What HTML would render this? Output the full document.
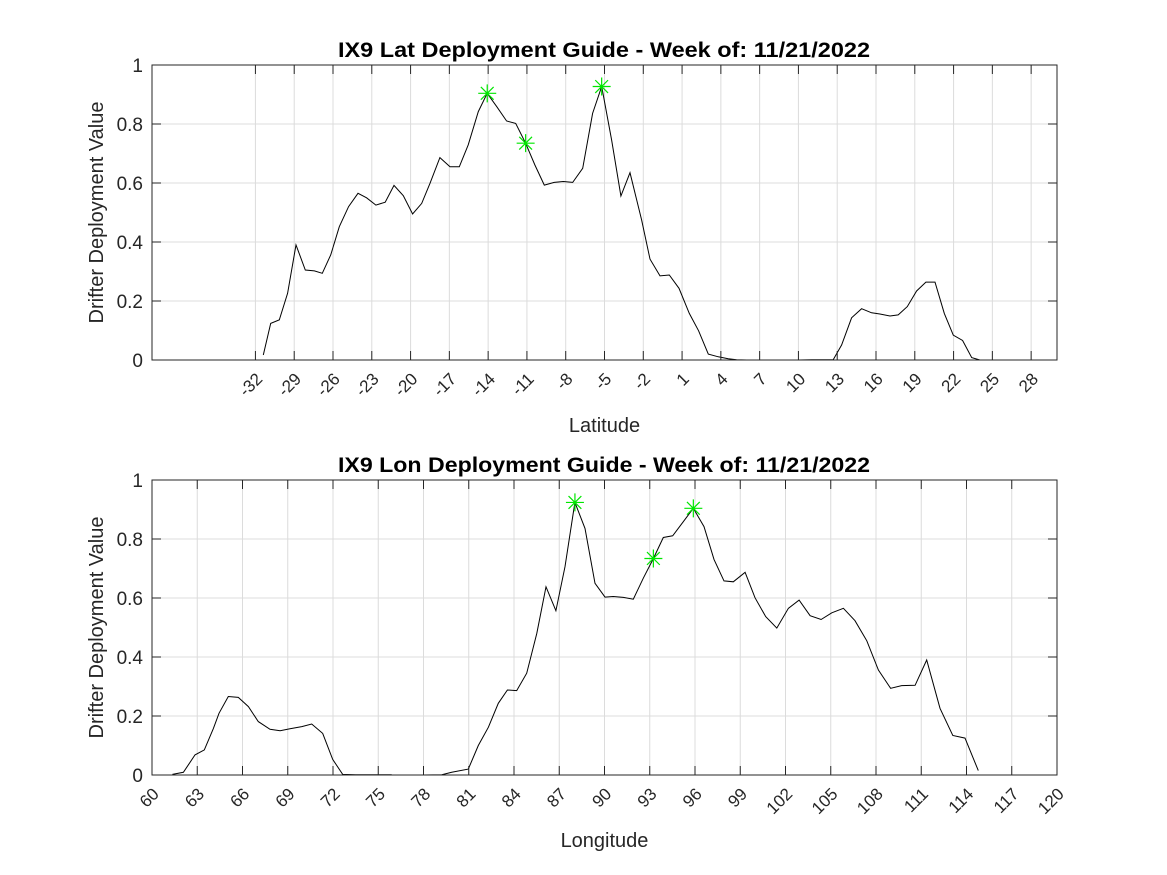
<!DOCTYPE html>
<html><head><meta charset="utf-8"><style>
html,body{margin:0;padding:0;background:#fff;}
svg{display:block;font-family:"Liberation Sans",Arial,sans-serif;}
</style></head><body>
<svg id="chart" width="1167" height="875" viewBox="0 0 1167 875" xmlns="http://www.w3.org/2000/svg"></svg>
<script>
const latX = [-31.39,-30.82,-30.15,-29.51,-28.86,-28.14,-27.44,-26.83,-26.18,-25.51,-24.79,-24.07,-23.40,-22.68,-21.96,-21.28,-20.56,-19.84,-19.14,-18.5,-17.73,-16.95,-16.23,-15.54,-14.76,-14.07,-13.34,-12.57,-11.87,-11.10,-10.38,-9.66,-8.89,-8.19,-7.46,-6.69,-5.92,-5.22,-4.45,-3.73,-3.03,-2.13,-1.48,-0.71,0.01,0.76,1.56,2.28,3.03,3.80,4.57,5.22,6.0,6.77,null,9.03,10.0,11.0,12.0,12.69,13.34,14.11,14.89,15.66,16.3,17.08,17.72,18.42,19.14,19.86,20.56,21.28,21.98,22.70,23.40,24.04];
const latV = [0.017,0.124,0.136,0.226,0.39,0.305,0.302,0.294,0.356,0.452,0.52,0.565,0.55,0.525,0.535,0.592,0.557,0.495,0.531,0.599,0.686,0.655,0.655,0.729,0.842,0.904,0.859,0.81,0.802,0.735,0.661,0.593,0.602,0.605,0.602,0.65,0.836,0.927,0.746,0.556,0.635,0.475,0.342,0.285,0.288,0.243,0.158,0.099,0.02,0.011,0.004,0.001,0.0,0.0,null,0.0,0.0,0.001,0.001,0.001,0.051,0.143,0.174,0.16,0.156,0.149,0.153,0.181,0.234,0.264,0.264,0.158,0.084,0.066,0.008,0.0];
const latPeaks = [25,29,37];
const lonX = [61.35,62.08,62.85,63.47,64.07,64.44,65.06,65.72,66.39,67.05,67.82,68.49,69.15,69.93,70.59,71.32,71.98,72.64,73.5,74.5,75.89,null,77.99,79.21,79.87,80.97,81.63,82.30,82.96,83.56,84.18,84.84,85.51,86.12,86.78,87.38,88.04,88.71,89.37,90.03,90.58,91.25,91.91,92.57,93.24,93.90,94.52,95.23,95.89,96.60,97.26,97.92,98.54,99.32,99.98,100.69,101.42,102.19,102.90,103.63,104.36,105.07,105.84,106.61,107.39,108.16,108.97,109.70,110.59,111.36,112.24,113.09,113.90,114.78];
const lonV = [0.002,0.009,0.068,0.085,0.158,0.209,0.266,0.263,0.232,0.181,0.155,0.150,0.157,0.164,0.173,0.141,0.053,0.002,0.001,0.001,0.001,null,0.0,0.001,0.009,0.02,0.1,0.162,0.243,0.288,0.286,0.345,0.48,0.638,0.557,0.706,0.924,0.836,0.65,0.603,0.605,0.602,0.596,0.667,0.734,0.805,0.811,0.859,0.904,0.842,0.731,0.658,0.655,0.687,0.601,0.537,0.498,0.565,0.593,0.54,0.527,0.55,0.565,0.523,0.455,0.356,0.294,0.303,0.304,0.39,0.226,0.134,0.125,0.015];
const lonPeaks = [36,44,48];
const yTicks = [0,0.2,0.4,0.6,0.8,1];
const yTickLabels = ["0","0.2","0.4","0.6","0.8","1"];
const latTicks = [-32,-29,-26,-23,-20,-17,-14,-11,-8,-5,-2,1,4,7,10,13,16,19,22,25,28];
const lonTicks = [60,63,66,69,72,75,78,81,84,87,90,93,96,99,102,105,108,111,114,117,120];

const NS="http://www.w3.org/2000/svg";
const svg=document.getElementById('chart');
function el(tag,attrs,parent){const e=document.createElementNS(NS,tag);for(const k in attrs)e.setAttribute(k,attrs[k]);(parent||svg).appendChild(e);return e;}

function panel(cfg){
  const L=152,R=1057,T=cfg.top,B=cfg.top+295;
  const g=el('g',{});
  
  
  const sx=v=>L+(v-cfg.xmin)/(cfg.xmax-cfg.xmin)*(R-L);
  const sy=v=>B-v*(B-T);
  cfg.ticks.forEach(t=>{
    const gl=el('line',{x1:sx(t),x2:sx(t),y1:T,y2:B,stroke:'#dcdcdc','stroke-width':1},g);
    
    
  });
  yTicks.forEach(t=>{
    const gl=el('line',{x1:L,x2:R,y1:sy(t),y2:sy(t),stroke:'#dcdcdc','stroke-width':1},g);
    
    
  });
  let d='',pen=false;
  cfg.xs.forEach((x,i)=>{
    const v=cfg.vs[i];
    if(x===null||v===null){pen=false;return;}
    d+=(pen?'L':'M')+sx(x).toFixed(1)+' '+sy(v).toFixed(1)+' ';pen=true;
  });
  const line=el('path',{d:d,fill:'none',stroke:'#000','stroke-width':1},g);
  
  
  cfg.peaks.forEach(i=>{
    const cx=sx(cfg.xs[i]),cy=sy(cfg.vs[i]),r=9,r2=6.4;
    const m=el('path',{d:`M${cx-r} ${cy}H${cx+r}M${cx} ${cy-r}V${cy+r}M${cx-r2} ${cy-r2}L${cx+r2} ${cy+r2}M${cx-r2} ${cy+r2}L${cx+r2} ${cy-r2}`,stroke:'#00e600','stroke-width':1.2,fill:'none'},g);
    
    
  });
  const box=el('rect',{x:L,y:T,width:R-L,height:B-T,fill:'none',stroke:'#262626','stroke-width':1},g);
  
  
  cfg.ticks.forEach((t,i)=>{
    el('line',{x1:sx(t),x2:sx(t),y1:B,y2:B-9,stroke:'#262626'},g);
    el('line',{x1:sx(t),x2:sx(t),y1:T,y2:T+9,stroke:'#262626'},g);
    const tx=el('text',{x:0,y:0,'text-anchor':'end','font-size':17,fill:'#262626',transform:`translate(${sx(t)+8},${B+20}) rotate(-45)`},g);
    tx.textContent=String(t);
    
    
  });
  yTicks.forEach((t,i)=>{
    el('line',{x1:L,x2:L+9,y1:sy(t),y2:sy(t),stroke:'#262626'},g);
    el('line',{x1:R,x2:R-9,y1:sy(t),y2:sy(t),stroke:'#262626'},g);
    const tx=el('text',{x:L-9,y:sy(t)+7,'text-anchor':'end','font-size':19,fill:'#262626'},g);
    tx.textContent=yTickLabels[i];
    
    
  });
  const title=el('text',{x:338,y:T-8,'font-size':21,'font-weight':'bold',fill:'#000',textLength:532,lengthAdjust:'spacingAndGlyphs'},g);
  title.textContent=cfg.title;
  
  
  const xl=el('text',{x:(L+R)/2,y:B+72,'text-anchor':'middle','font-size':20,fill:'#262626'},g);
  xl.textContent=cfg.xlabel;
  
  
  const yl=el('text',{x:0,y:0,'text-anchor':'middle','font-size':20,fill:'#262626',transform:`translate(103,${(T+B)/2}) rotate(-90)`},g);
  yl.textContent='Drifter Deployment Value';
  
  
}
panel({name:'lat-panel',top:65,xmin:-40,xmax:30,ticks:latTicks,xs:latX,vs:latV,peaks:latPeaks,title:'IX9 Lat Deployment Guide - Week of: 11/21/2022',xlabel:'Latitude'});
panel({name:'lon-panel',top:480,xmin:60,xmax:120,ticks:lonTicks,xs:lonX,vs:lonV,peaks:lonPeaks,title:'IX9 Lon Deployment Guide - Week of: 11/21/2022',xlabel:'Longitude'});
</script>
</body></html>
